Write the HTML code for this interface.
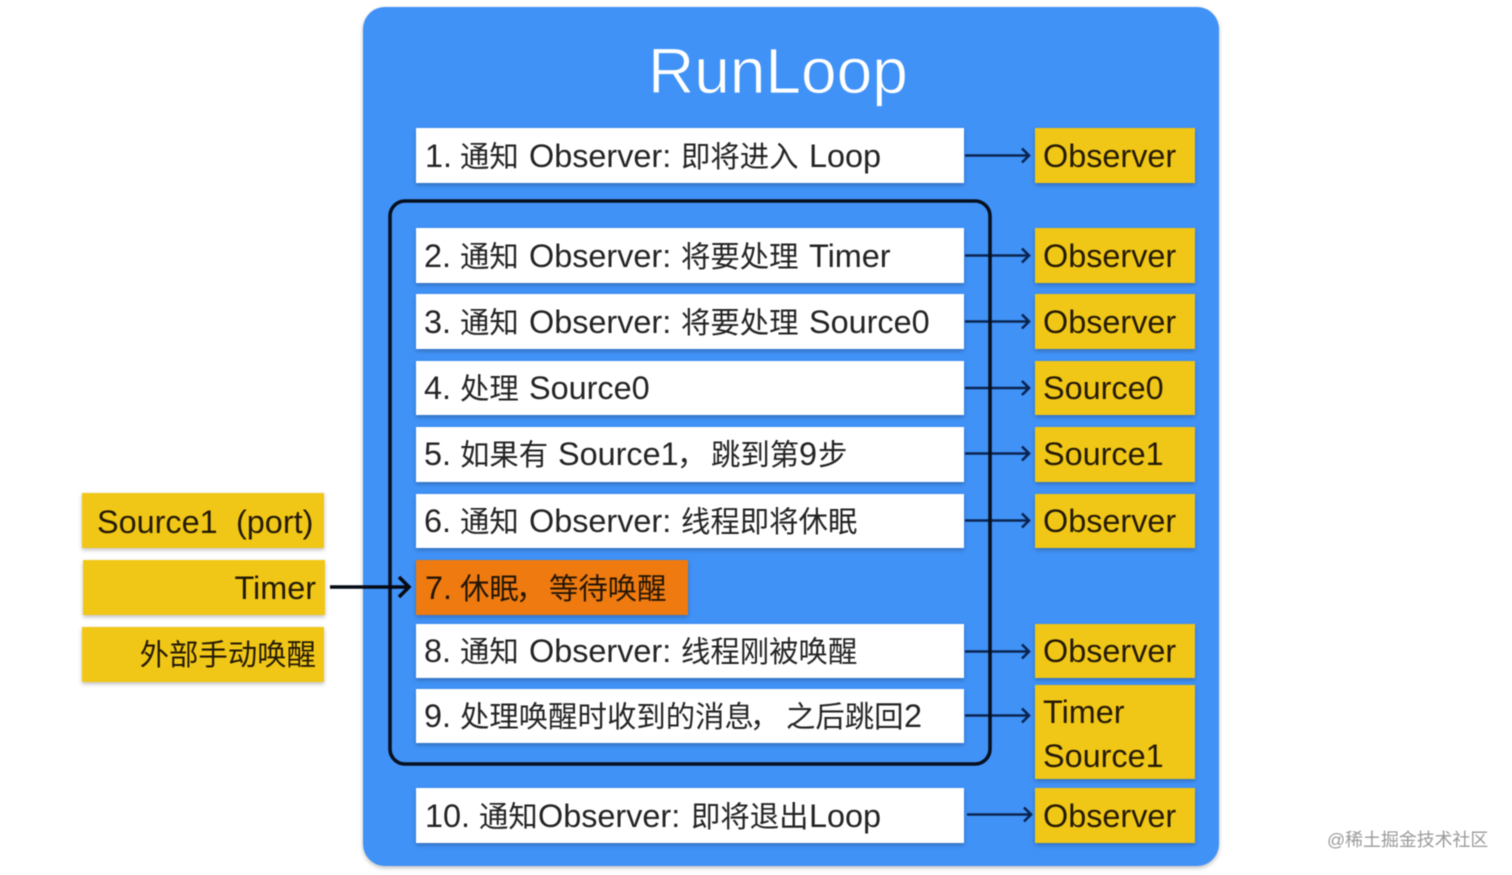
<!DOCTYPE html>
<html lang="zh">
<head>
<meta charset="utf-8">
<title>RunLoop</title>
<style>
html,body{margin:0;padding:0;background:#fff;width:1512px;height:875px;overflow:hidden}
svg{display:block}
text{font-family:"Liberation Sans","Noto Sans CJK SC",sans-serif;font-size:32.4px;fill:#232323}
.c{font-size:29.4px}
.all{filter:blur(.6px)}
.sh{filter:drop-shadow(0 2px 2px rgba(0,0,0,.25))}
.a{fill:none;stroke:#0a2450;stroke-width:2.6}
.d{fill:#241a04}
</style>
</head>
<body>
<svg width="1512" height="875" viewBox="0 0 1512 875" xmlns="http://www.w3.org/2000/svg">
<g class="all">
<rect class="sh" x="363" y="7" width="856" height="859" rx="22" fill="#4192f7"/>
<text x="648" y="93" style="font-size:64px;fill:#fff;stroke:#4192f7;stroke-width:.8px">RunLoop</text>

<g class="sh" fill="#fff">
<rect x="416" y="128" width="548" height="55"/>
<rect x="416" y="228" width="548" height="55"/>
<rect x="416" y="294" width="548" height="55"/>
<rect x="416" y="361" width="548" height="54"/>
<rect x="416" y="427" width="548" height="55"/>
<rect x="416" y="494" width="548" height="54"/>
<rect x="416" y="560" width="272" height="55" fill="#ee7a10"/>
<rect x="416" y="624" width="548" height="54"/>
<rect x="416" y="689" width="548" height="54"/>
<rect x="416" y="788" width="548" height="55"/>
</g>
<g class="sh" fill="#f1c717">
<rect x="1035" y="128" width="160" height="55"/>
<rect x="1035" y="228" width="160" height="55"/>
<rect x="1035" y="294" width="160" height="55"/>
<rect x="1035" y="361" width="160" height="54"/>
<rect x="1035" y="427" width="160" height="55"/>
<rect x="1035" y="494" width="160" height="54"/>
<rect x="1035" y="624" width="160" height="54"/>
<rect x="1035" y="685" width="160" height="94"/>
<rect x="1035" y="788" width="160" height="55"/>
<rect x="82" y="493" width="242" height="55"/>
<rect x="83" y="560" width="242" height="55"/>
<rect x="82" y="627" width="242" height="55"/>
</g>

<path class="a" d="M965 155.5H1029M1022 148.5L1029 155.5L1022 162.5"/>
<path class="a" d="M965 255.5H1029M1022 248.5L1029 255.5L1022 262.5"/>
<path class="a" d="M965 321.5H1029M1022 314.5L1029 321.5L1022 328.5"/>
<path class="a" d="M965 388H1029M1022 381L1029 388L1022 395"/>
<path class="a" d="M965 453.5H1029M1022 446.5L1029 453.5L1022 460.5"/>
<path class="a" d="M965 520.5H1029M1022 513.5L1029 520.5L1022 527.5"/>
<path class="a" d="M965 651.5H1029M1022 644.5L1029 651.5L1022 658.5"/>
<path class="a" d="M965 715.5H1029M1022 708.5L1029 715.5L1022 722.5"/>
<path class="a" d="M967 814.5H1031M1024 807.5L1031 814.5L1024 821.5"/>
<rect x="390" y="201" width="600" height="563" rx="15" fill="none" stroke="#06101f" stroke-width="3.6"/>
<path d="M330 587H409M399 577L409 587L399 597" fill="none" stroke="#050a14" stroke-width="3.6"/>

<text y="167"><tspan x="425">1.</tspan><tspan x="460" class="c">通知</tspan><tspan x="529">Observer:</tspan><tspan x="681" class="c">即将进入</tspan><tspan x="809">Loop</tspan></text>
<text y="267"><tspan x="424">2.</tspan><tspan x="460" class="c">通知</tspan><tspan x="529">Observer:</tspan><tspan x="681" class="c">将要处理</tspan><tspan x="809">Timer</tspan></text>
<text y="333"><tspan x="424">3.</tspan><tspan x="460" class="c">通知</tspan><tspan x="529">Observer:</tspan><tspan x="681" class="c">将要处理</tspan><tspan x="809">Source0</tspan></text>
<text y="399"><tspan x="424">4.</tspan><tspan x="460" class="c">处理</tspan><tspan x="529">Source0</tspan></text>
<text y="465"><tspan x="424">5.</tspan><tspan x="460" class="c">如果有</tspan><tspan x="558">Source1</tspan><tspan x="677" class="c">，</tspan><tspan x="711" class="c">跳到第</tspan><tspan x="799">9</tspan><tspan x="818" class="c">步</tspan></text>
<text y="532"><tspan x="424">6.</tspan><tspan x="460" class="c">通知</tspan><tspan x="529">Observer:</tspan><tspan x="681" class="c">线程即将休眠</tspan></text>
<text y="599" style="fill:#241604"><tspan x="425">7.</tspan><tspan x="460" class="c">休眠</tspan><tspan x="516" class="c">，</tspan><tspan x="549" class="c">等待唤醒</tspan></text>
<text y="662"><tspan x="424">8.</tspan><tspan x="460" class="c">通知</tspan><tspan x="529">Observer:</tspan><tspan x="681" class="c">线程刚被唤醒</tspan></text>
<text y="727"><tspan x="424">9.</tspan><tspan x="460" class="c">处理唤醒时收到的消息</tspan><tspan x="750" class="c">，</tspan><tspan x="786" class="c">之后跳回</tspan><tspan x="904">2</tspan></text>
<text y="827"><tspan x="425">10.</tspan><tspan x="479" class="c">通知</tspan><tspan x="538">Observer:</tspan><tspan x="691" class="c">即将退出</tspan><tspan x="809">Loop</tspan></text>

<text class="d" x="1043" y="167">Observer</text>
<text class="d" x="1043" y="267">Observer</text>
<text class="d" x="1043" y="333">Observer</text>
<text class="d" x="1043" y="399">Source0</text>
<text class="d" x="1043" y="465">Source1</text>
<text class="d" x="1043" y="532">Observer</text>
<text class="d" x="1043" y="662">Observer</text>
<text class="d" x="1043" y="723">Timer</text>
<text class="d" x="1043" y="767">Source1</text>
<text class="d" x="1043" y="827">Observer</text>

<text class="d" y="533"><tspan x="97">Source1</tspan><tspan x="236">(port)</tspan></text>
<text class="d" x="316" y="599" text-anchor="end">Timer</text>
<text class="d c" x="316" y="665" text-anchor="end">外部手动唤醒</text>

<text x="1327" y="846" style="font-size:17.9px;fill:#9a9a9a">@稀土掘金技术社区</text>
</g>
</svg>
</body>
</html>
